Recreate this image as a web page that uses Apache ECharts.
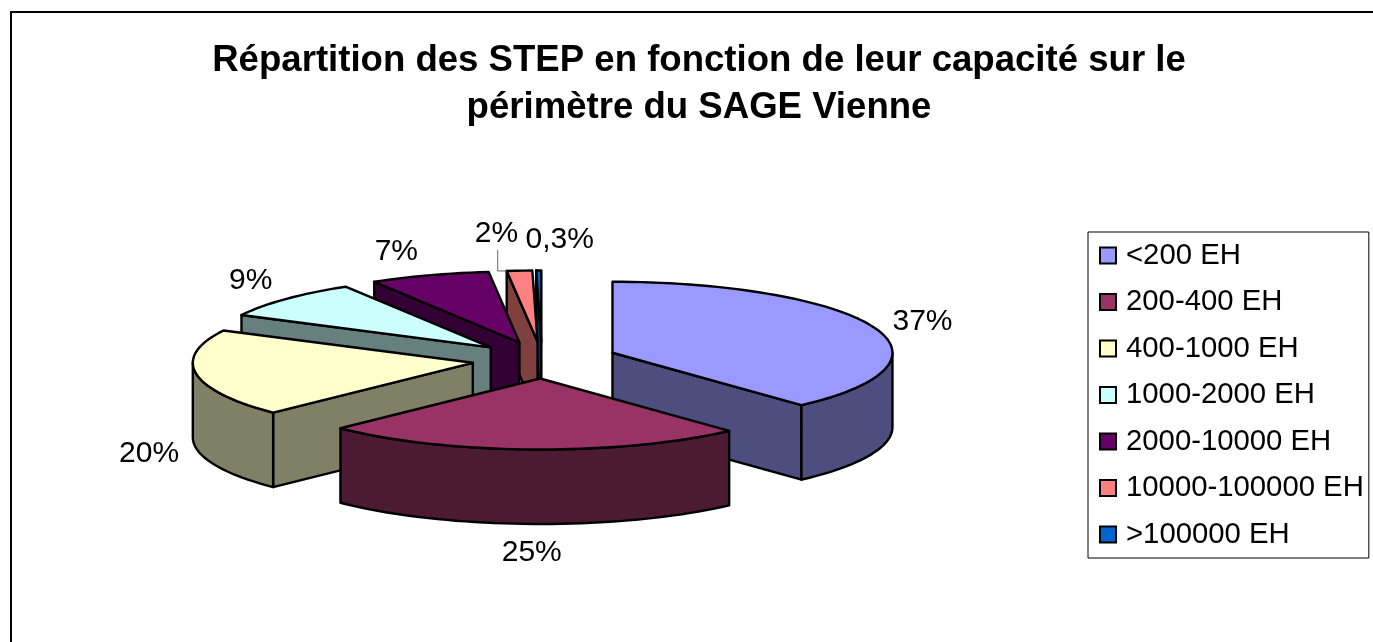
<!DOCTYPE html>
<html>
<head>
<meta charset="utf-8">
<style>html,body{margin:0;padding:0;background:#fff}#c{width:1373px;height:642px}</style>
<script src="https://cdn.jsdelivr.net/npm/echarts@6/dist/echarts.min.js"></script>
</head>
<body>
<div id="c"></div>
<script>
const categories = ['<200 EH','200-400 EH','400-1000 EH','1000-2000 EH','2000-10000 EH','10000-100000 EH','>100000 EH'];
const values = [37.4, 24.4, 20.2, 9.0, 7.1, 1.5, 0.3];
const valueLabels = ['37%','25%','20%','9%','7%','2%','0,3%'];
const topColors = ['#9999FF','#993366','#FFFFCC','#CCFFFF','#660066','#FF8080','#0066CC'];
const sideColors = ['#4D4D80','#4D1A33','#808066','#668080','#330033','#804040','#003366'];
const explodeScale = [1.08,1,1,1,1,1,1];
const labelOffsets = [[49,-5],[-1,103],[-47,80],[-35,-18],[-33,-24],[-23,-37],[21,-31]];

const FONT = '"Liberation Sans", Arial, sans-serif';
const C = {x:542, y:360, rx:280, ry:71, depth:74.5, ex:70, ey:18.5, warp:3};
const total = values.reduce((a,b)=>a+b,0);
function warp(d){ return d + C.warp*Math.sin(d*Math.PI/360); }
const cum = [0];
values.forEach((v,i)=>cum.push(cum[i]+v));
const startA = values.map((v,i)=>warp(cum[i]/total*360));
const endA = values.map((v,i)=>warp(cum[i+1]/total*360));
function uv(d){ const r=d*Math.PI/180; return [Math.sin(r), -Math.cos(r)]; }

function arcPts(cx,cy,a,b){
  const n=Math.max(2,Math.ceil(Math.abs(b-a)/2)), pts=[];
  for(let k=0;k<=n;k++){ const [u,v]=uv(a+(b-a)*k/n); pts.push([cx+C.rx*u, cy+C.ry*v]); }
  return pts;
}
function drop(pts){ return pts.map(p=>[p[0],p[1]+C.depth]); }

function sliceChildren(i){
  const a=startA[i], b=endA[i], mid=(a+b)/2, [mu,mv]=uv(mid);
  const cx=C.x+C.ex*explodeScale[i]*mu, cy=C.y+C.ey*explodeScale[i]*mv;
  const A=[cx,cy], arc=arcPts(cx,cy,a,b), M=[cx+C.rx*mu, cy+C.ry*mv];
  const line={stroke:'#000', lineWidth:2.4, lineJoin:'round'};
  const kids=[];
  const poly=(pts,fill)=>kids.push({type:'polygon',shape:{points:pts},style:Object.assign({fill:fill},line)});
  [arc[0],arc[arc.length-1]].forEach(P=>{
    const dx=P[0]-A[0];
    if(Math.abs(dx)<1) return;
    if(M[1] < A[1]+(P[1]-A[1])*(M[0]-A[0])/dx) poly([A,P,[P[0],P[1]+C.depth],[A[0],A[1]+C.depth]], sideColors[i]);
  });
  const f0=Math.max(a,90), f1=Math.min(b,270);
  if(f1>f0){
    const o=arcPts(cx,cy,f0,f1);
    poly(o.concat(drop(o).reverse()), sideColors[i]);
  }
  poly([A].concat(arc), topColors[i]);
  const off=labelOffsets[i];
  if(i===5){
    const s=arc[0];
    kids.push({type:'polyline',shape:{points:[[s[0],s[1]],[s[0]-9,s[1]],[s[0]-9,s[1]-21]]},style:{stroke:'#666',lineWidth:1,fill:null}});
  }
  kids.push({type:'text',style:{text:valueLabels[i],x:M[0]+off[0],y:M[1]+off[1],fill:'#000',font:'30px '+FONT,align:'center',verticalAlign:'middle'}});
  return kids;
}

const drawOrder = values.map((v,i)=>i).sort((p,q)=>{
  const m=i=>uv((startA[i]+endA[i])/2)[1];
  return m(p)-m(q);
});

const series = drawOrder.map((i,order)=>({
  type:'custom',
  name:categories[i],
  coordinateSystem:'none',
  z:2+order,
  silent:true,
  animation:false,
  itemStyle:{color:topColors[i]},
  data:[values[i]],
  renderItem:()=>({type:'group',children:sliceChildren(i)})
}));

const chart = echarts.init(document.getElementById('c'),null,{renderer:'canvas'});
chart.setOption({
  animation:false,
  backgroundColor:'#fff',
  title:{
    text:'Répartition des STEP en fonction de leur capacité sur le\npérimètre du SAGE Vienne',
    left:694, top:32, textAlign:'center',
    textStyle:{fontFamily:FONT,fontWeight:'bold',fontSize:36.6,lineHeight:47,color:'#000'}
  },
  legend:{
    orient:'vertical', left:1088, top:232, itemWidth:16, itemHeight:16, itemGap:17.5,
    padding:[9,5,9,11],
    borderColor:'#000', borderWidth:1, backgroundColor:'#fff',
    selectedMode:false, icon:'rect',
    itemStyle:{borderColor:'#000',borderWidth:2},
    textStyle:{fontFamily:FONT,fontSize:29.3,color:'#000',lineHeight:29,padding:[0,0,0,5]},
    data:categories
  },
  graphic:[{type:'rect',z:-1,silent:true,shape:{x:11,y:12,width:1500,height:800},style:{fill:'none',stroke:'#000',lineWidth:2}}],
  series:series
});
</script>
</body>
</html>
